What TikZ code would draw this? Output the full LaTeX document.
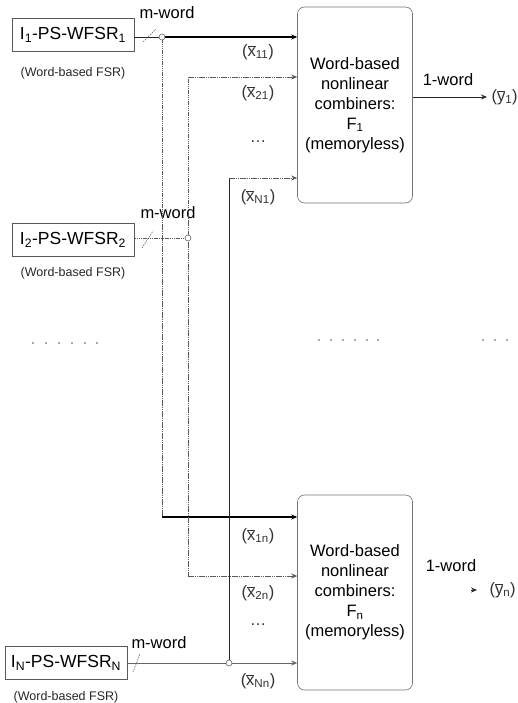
\documentclass[tikz,border=0pt]{standalone}
\usepackage{fontspec}
\setmainfont{Liberation Sans}
\usetikzlibrary{arrows.meta}
\newcommand{\xlab}[1]{(\(\overline{\mbox{x}}\)\textsubscript{#1})}
\newcommand{\ylab}[1]{(\(\overline{\mbox{y}}\)\textsubscript{#1})}
\tikzset{
  src/.style={draw=black!65, line width=0.6pt, minimum width=122pt, minimum height=33pt, inner sep=0pt, font=\fontsize{17.5}{20}\selectfont},
  fsr/.style={font=\fontsize{12.5}{14}\selectfont, text=black!85},
  mw/.style={font=\fontsize{16.5}{18}\selectfont},
  comb/.style={draw=black!55, line width=0.6pt, rounded corners=7pt, minimum width=115pt, inner sep=0pt, align=center, font=\fontsize{16.5}{20}\selectfont},
  inlab/.style={font=\fontsize{16.5}{18}\selectfont, text=black!80},
  thickln/.style={line width=1.3pt, black},
  thinln/.style={line width=0.7pt, black!85},
  dotln/.style={line width=0.8pt, black!65, dash pattern=on 1.5pt off 0.7pt},
  grayln/.style={line width=0.7pt, black!60},
  arr/.style={-{Stealth[length=6pt,width=5pt]}},
  junc/.style={circle, draw=black!60, fill=white, inner sep=0pt, minimum size=6pt, line width=0.6pt},
  tick/.style={line width=0.6pt, black!60, dash pattern=on 1.5pt off 1pt},
  dotrow/.style={fill=black!70, circle, inner sep=0pt, minimum size=1.8pt}
}
\begin{document}
\begin{tikzpicture}[x=1pt,y=-1pt]
\useasboundingbox (0,0) rectangle (517,703);

% sources
\node[src] (s1) at (73,35) {I\textsubscript{1}-PS-WFSR\textsubscript{1}};
\node[fsr] (f1) at (73,73) {(Word-based FSR)};
\node[src] (s2) at (73,240) {I\textsubscript{2}-PS-WFSR\textsubscript{2}};
\node[fsr] (f2) at (73,273) {(Word-based FSR)};
\node[src] (sN) at (66,663) {I\textsubscript{N}-PS-WFSR\textsubscript{N}};
\node[fsr] (fN) at (66,697) {(Word-based FSR)};

\node[mw] (m1) at (167,13) {m-word};
\node[mw] (m2) at (168,213) {m-word};
\node[mw] (mN) at (159,643) {m-word};

% combiners
\node[comb, minimum height=196pt] (F1) at (355,105) {Word-based\\nonlinear\\combiners:\\F\textsubscript{1}\\(memoryless)};
\node[comb, minimum height=195pt] (Fn) at (355,592.5) {Word-based\\nonlinear\\combiners:\\F\textsubscript{n}\\(memoryless)};

% junctions / corners
\coordinate (j1) at (162,37);
\coordinate (j1b) at (162,517);
\coordinate (j2) at (188,238);
\coordinate (j2t) at (188,77);
\coordinate (j2b) at (188,576);
\coordinate (jN) at (229,663);
\coordinate (jNt) at (229,178);

% source 1
\draw[thinln] (s1.east |- j1) -- (j1);
\draw[thickln, arr] (j1) -- (F1.west |- j1);
\draw[dotln] (j1) -- (j1b);
\draw[thickln, arr] (j1b) -- (Fn.west |- j1b);

% source 2
\draw[dotln] (s2.east |- j2) -- (j2);
\draw[dotln] (j2t) -- (j2b);
\draw[dotln, arr] (j2t) -- (F1.west |- j2t);
\draw[dotln, arr] (j2b) -- (Fn.west |- j2b);

% source N
\draw[grayln] (sN.east |- jN) -- (jN);
\draw[thinln] (jNt) -- (jN);
\draw[dotln, arr] (jNt) -- (F1.west |- jNt);
\draw[grayln, arr] (jN) -- (Fn.west |- jN);

\node[junc] at (j1) {};
\node[junc] at (j2) {};
\node[junc] at (jN) {};

% ticks
\draw[tick] (143,42) -- (156,29);
\draw[tick] (142,248) -- (153,231);
\draw[tick] (133,672) -- (140,654);

% input labels
\node[inlab] (l11) at (258,52) {\xlab{11}};
\node[inlab] (l21) at (258,93) {\xlab{21}};
\node[inlab] (ld1) at (258,142) {\dots};
\node[inlab] (lN1) at (258,197) {\xlab{N1}};
\node[inlab] (l1n) at (258,536) {\xlab{1n}};
\node[inlab] (l2n) at (258,593) {\xlab{2n}};
\node[inlab] (ldn) at (258,625) {\dots};
\node[inlab] (lNn) at (258,681) {\xlab{Nn}};

% outputs
\coordinate (o1) at (487,97);
\draw[thinln, arr] (F1.east |- o1) -- (o1);
\node[mw] (w1) at (448,80) {1-word};
\node[inlab, anchor=west] (y1) at (488,97) {\ylab{1}};

\node[mw] (wn) at (451,566) {1-word};
\coordinate (ont) at (477,590);
\coordinate (ons) at (471,590);
\draw[thinln, arr] (ons) -- (ont);
\node[inlab, anchor=west] (yn) at (486,590) {\ylab{n}};

% ellipsis rows
\foreach \x in {33,46,59,72,85,97} \node[dotrow] at (\x,343) {};
\foreach \x in {319,331,343,355,367,378} \node[dotrow] at (\x,340) {};
\foreach \x in {483,495,507} \node[dotrow] at (\x,340) {};
\end{tikzpicture}
\end{document}
